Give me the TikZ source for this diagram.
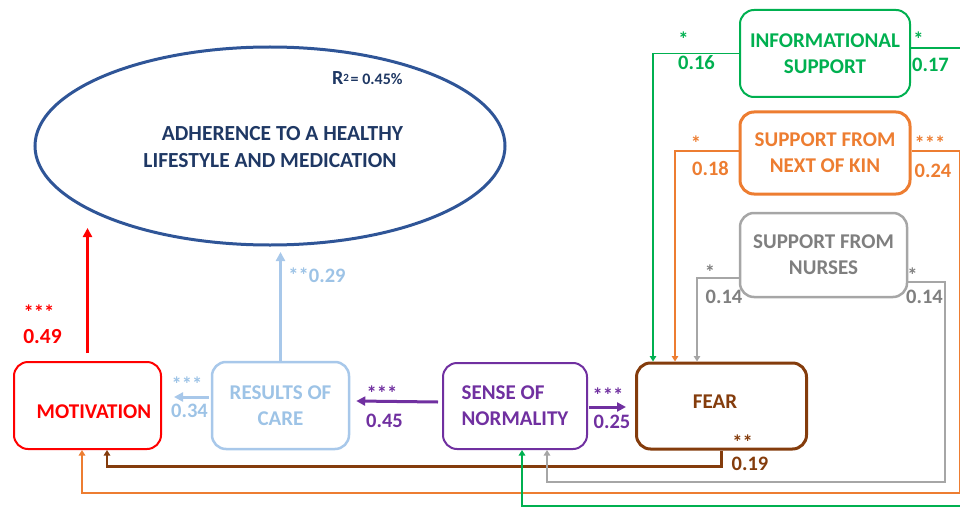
\documentclass[tikz,border=0pt]{standalone}
\usepackage{fontspec}
\setmainfont{Carlito}
\usetikzlibrary{shapes.geometric,arrows.meta}
\definecolor{cnavy}{HTML}{1F3864}
\definecolor{cell}{HTML}{2F5597}
\definecolor{cred}{HTML}{FF0000}
\definecolor{clb}{HTML}{A8C8EA}
\definecolor{clbt}{HTML}{9DC3E6}
\definecolor{cpur}{HTML}{7030A0}
\definecolor{cbrn}{HTML}{843C0C}
\definecolor{cgrn}{HTML}{00B050}
\definecolor{corg}{HTML}{ED7D31}
\definecolor{cgry}{HTML}{A6A6A6}
\definecolor{cgryt}{HTML}{7F7F7F}
\tikzset{
  boxnode/.style={draw, rounded corners=14pt, inner sep=0pt, align=center,
    font=\bfseries\fontsize{21}{26}\selectfont},
  lbl/.style={anchor=base, inner sep=0pt, font=\bfseries\fontsize{20.5}{24}\selectfont},
  bigtip/.style={-{Triangle[length=9pt,width=9pt]}},
  smalltip/.style={-{Triangle[length=5.5pt,width=6.5pt]}},
}
\begin{document}
\begin{tikzpicture}[x=1pt,y=-1pt]
\useasboundingbox (0,0) rectangle (960,508);
% ellipse
\node[draw=cell, line width=3pt, ellipse, minimum width=470pt, minimum height=198pt, inner sep=0pt] (ell) at (270,146) {};
\node[text=cnavy, align=center, font=\bfseries\fontsize{21.5}{27}\selectfont, inner sep=0pt] (elltext) at (270,147) {\hspace*{25pt}ADHERENCE TO A HEALTHY\\LIFESTYLE AND MEDICATION};
\node[text=cnavy, anchor=base west, inner sep=0pt, font=\bfseries] (rsq) at (332,85) {{\fontsize{20}{24}\selectfont R}{\fontsize{11}{12}\selectfont\raisebox{3pt}{2}}\,{\fontsize{16}{20}\selectfont = 0.45\%}};
% boxes
\node[boxnode, draw=cred, text=cred, line width=2pt, minimum width=147pt, minimum height=87pt, text height=25.5pt, text depth=0pt] (mot) at (87.5,405.5) {\hspace*{13pt}MOTIVATION};
\node[boxnode, draw=clb, text=clbt, line width=2.5pt, minimum width=137pt, minimum height=87pt] (res) at (280.5,405.5) {RESULTS OF\\CARE};
\node[boxnode, draw=cpur, text=cpur, line width=2pt, minimum width=144pt, minimum height=86pt, align=left] (sen) at (515,406) {SENSE OF\\NORMALITY};
\node[boxnode, draw=cbrn, text=cbrn, line width=3pt, minimum width=170pt, minimum height=86pt, text height=13.5pt, text depth=8pt] (fear) at (721.5,406) {FEAR\hspace*{13pt}};
\node[boxnode, draw=cgrn, text=cgrn, line width=2pt, minimum width=170pt, minimum height=87pt] (info) at (825,53.5) {INFORMATIONAL\\SUPPORT};
\node[boxnode, draw=corg, text=corg, line width=3pt, minimum width=170pt, minimum height=82pt] (kin) at (825,153) {SUPPORT FROM\\NEXT OF KIN};
\node[boxnode, draw=cgry, text=cgryt, line width=2.5pt, minimum width=167pt, minimum height=84pt] (nur) at (823.5,255) {SUPPORT FROM\\NURSES};
% free ends
\coordinate (redtip) at (87.5,228);
\coordinate (bluetip) at (280.5,252);
% connectors
\draw[cred, line width=2.5pt, bigtip] ([yshift=8pt]mot.north) -- (redtip);
\draw[clb, line width=2.5pt, bigtip] (res.north) -- (bluetip);
\draw[clb, line width=3pt, bigtip] ([xshift=-2pt,yshift=8.5pt]res.west) -- ([xshift=12pt,yshift=8.5pt]mot.east);
\draw[cpur, line width=3pt, bigtip] ([xshift=-4pt,yshift=4pt]sen.west) -- ([xshift=6pt,yshift=4.5pt]res.east);
\draw[cpur, line width=3pt, bigtip] ([xshift=1pt,yshift=-1pt]sen.east) -- ([xshift=-9pt,yshift=-1pt]fear.west);
\draw[cbrn, line width=2.5pt, smalltip] (fear.south) -- ++(0,16) -| ([xshift=19.5pt]mot.south);
\draw[corg, line width=1.5pt, smalltip] ([yshift=2pt]kin.east) -- ++(48,0) -- ++(0,342) -| ([xshift=-5.5pt]mot.south);
\draw[cgry, line width=2pt, smalltip] ([yshift=-27pt]nur.east) -- ++(37,0) -- ++(0,200) -| ([xshift=32pt]sen.south);
\draw[cgrn, line width=1.5pt, smalltip] ([yshift=5.5pt]info.east) -- ++(52,0) -- ++(0,458) -| ([xshift=7pt]sen.south);
\draw[cgrn, line width=1.5pt, smalltip] (info.west) -| ([xshift=-68.5pt]fear.north);
\draw[corg, line width=1.5pt, smalltip] ([yshift=2pt]kin.west) -| ([xshift=-46.5pt]fear.north);
\draw[cgry, line width=2pt, smalltip] ([yshift=-23pt]nur.west) -| ([xshift=-24.5pt]fear.north);
% labels
\node[lbl, text=cred] (l1) at (39,319) {***};
\node[lbl, text=cred, font=\bfseries\fontsize{21.5}{24}\selectfont] (l2) at (42.5,343) {0.49};
\node[lbl, text=clbt] (l3) at (187,391) {***};
\node[lbl, text=clbt] (l4) at (189.5,417) {0.34};
\node[lbl, text=clbt] (l5) at (317,282) {**0.29};
\node[lbl, text=cpur] (l6) at (382,400) {***};
\node[lbl, text=cpur] (l7) at (384.5,427) {0.45};
\node[lbl, text=cpur] (l8) at (608,402) {***};
\node[lbl, text=cpur] (l9) at (612,428) {0.25};
\node[lbl, text=cbrn] (l10) at (742.5,449) {**};
\node[lbl, text=cbrn] (l11) at (750,470) {0.19};
\node[lbl, text=cgrn] (l12) at (683.5,47) {*};
\node[lbl, text=cgrn] (l13) at (696.5,70) {0.16};
\node[lbl, text=cgrn] (l14) at (918.5,47) {*};
\node[lbl, text=cgrn] (l15) at (930.5,72) {0.17};
\node[lbl, text=corg] (l16) at (696,150) {*};
\node[lbl, text=corg] (l17) at (710.5,175) {0.18};
\node[lbl, text=corg] (l18) at (930,150) {***};
\node[lbl, text=corg] (l19) at (933,177) {0.24};
\node[lbl, text=cgryt] (l20) at (710,279) {*};
\node[lbl, text=cgryt] (l21) at (724,303) {0.14};
\node[lbl, text=cgryt] (l22) at (912.5,282) {*};
\node[lbl, text=cgryt] (l23) at (924.5,303) {0.14};
\end{tikzpicture}
\end{document}
